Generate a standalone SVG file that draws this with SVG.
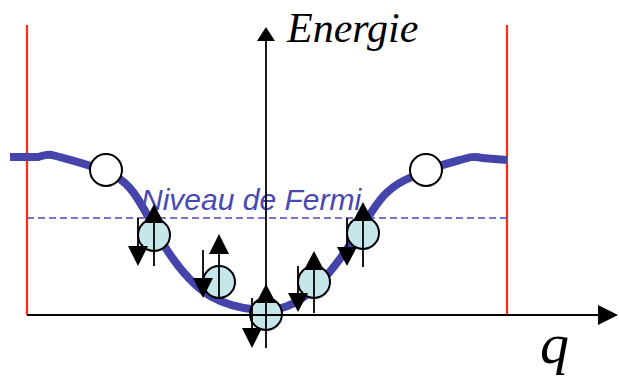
<svg xmlns="http://www.w3.org/2000/svg" width="619" height="378" viewBox="0 0 619 378">
<style>
.red{stroke:#ff2a10;stroke-width:2.2;fill:none}
.axis{stroke:#000;stroke-width:1.8;fill:none}
.fermi{stroke:#4a4ac0;stroke-width:1.6;stroke-dasharray:7 4;fill:none}
.band{stroke:#4444aa;stroke-width:8;fill:none;stroke-linejoin:round}
.hole{fill:#fff;stroke:#000;stroke-width:2}
.el{fill:#c6e6ea;stroke:#000;stroke-width:2}
.spin{stroke:#000;stroke-width:1.8;fill:none}
.head{fill:#000}
</style>
<rect width="619" height="378" fill="#fff"/>
<g id="walls">
<line class="red" x1="27" y1="25" x2="27" y2="315"/>
<line class="red" x1="507" y1="25" x2="507" y2="315"/>
</g>
<g id="fermi-level">
<line class="fermi" x1="27" y1="218" x2="507" y2="218"/>
</g>
<g id="band">
<path class="band" d="M10,157 L38,157 C42,156 46,154 52,155 C70,160 100,167 115,176 C130,184 138,198 150,220 C165,250 185,280 210,296 C230,307 250,310 266,310 C285,310 300,302 318,285 C335,268 350,245 365,222 C378,202 385,190 405,180 C420,173 440,165 460,160 C470,157 475,156 482,158 L507,160"/>
</g>
<g id="fermi-label">
<text x="141" y="210" font-family="Liberation Sans, Arial, sans-serif" font-style="italic" font-size="30" fill="#4848b4">Niveau de Fermi</text>
</g>
<g id="holes">
<circle class="hole" cx="106" cy="170" r="16"/>
<circle class="hole" cx="426" cy="170" r="16"/>
</g>
<g id="electrons">
<circle class="el" cx="154" cy="235" r="16"/>
<circle class="el" cx="219" cy="282" r="16"/>
<circle class="el" cx="266" cy="314" r="16"/>
<circle class="el" cx="314" cy="282" r="16"/>
<circle class="el" cx="363" cy="233" r="16"/>
</g>
<g id="axes">
<line class="axis" x1="27" y1="315" x2="602" y2="315"/>
<polygon class="head" points="618,315 598,305 598,325"/>
<line class="axis" x1="266" y1="348" x2="266" y2="36"/>
<polygon class="head" points="266,27 257,41 275,41"/>
</g>
<g id="spins">
<line class="spin" x1="154" y1="266" x2="154" y2="215"/><polygon class="head" points="154,204 144,223 164,223"/>
<line class="spin" x1="138" y1="218" x2="138" y2="255"/><polygon class="head" points="138,266 128,246 148,246"/>
<line class="spin" x1="219" y1="297" x2="219" y2="245"/><polygon class="head" points="219,234 209,254 229,254"/>
<line class="spin" x1="203" y1="250" x2="203" y2="287"/><polygon class="head" points="203,298 193,278 213,278"/>
<polygon class="head" points="266,284 256,303 276,303"/>
<line class="spin" x1="252" y1="298" x2="252" y2="337"/><polygon class="head" points="252,348 242,328 262,328"/>
<line class="spin" x1="314" y1="313" x2="314" y2="262"/><polygon class="head" points="314,251 304,270 324,270"/>
<line class="spin" x1="298" y1="266" x2="298" y2="301"/><polygon class="head" points="298,312 288,293 308,293"/>
<line class="spin" x1="363" y1="267" x2="363" y2="213"/><polygon class="head" points="363,202 353,221 373,221"/>
<line class="spin" x1="347" y1="218" x2="347" y2="255"/><polygon class="head" points="347,266 337,247 357,247"/>
</g>
<g id="labels">
<text x="287" y="42" font-family="Liberation Serif, Times New Roman, serif" font-style="italic" font-size="42" fill="#000">Energie</text>
<text x="540" y="363" font-family="Liberation Serif, Times New Roman, serif" font-style="italic" font-size="58" fill="#000">q</text>
</g>
</svg>
